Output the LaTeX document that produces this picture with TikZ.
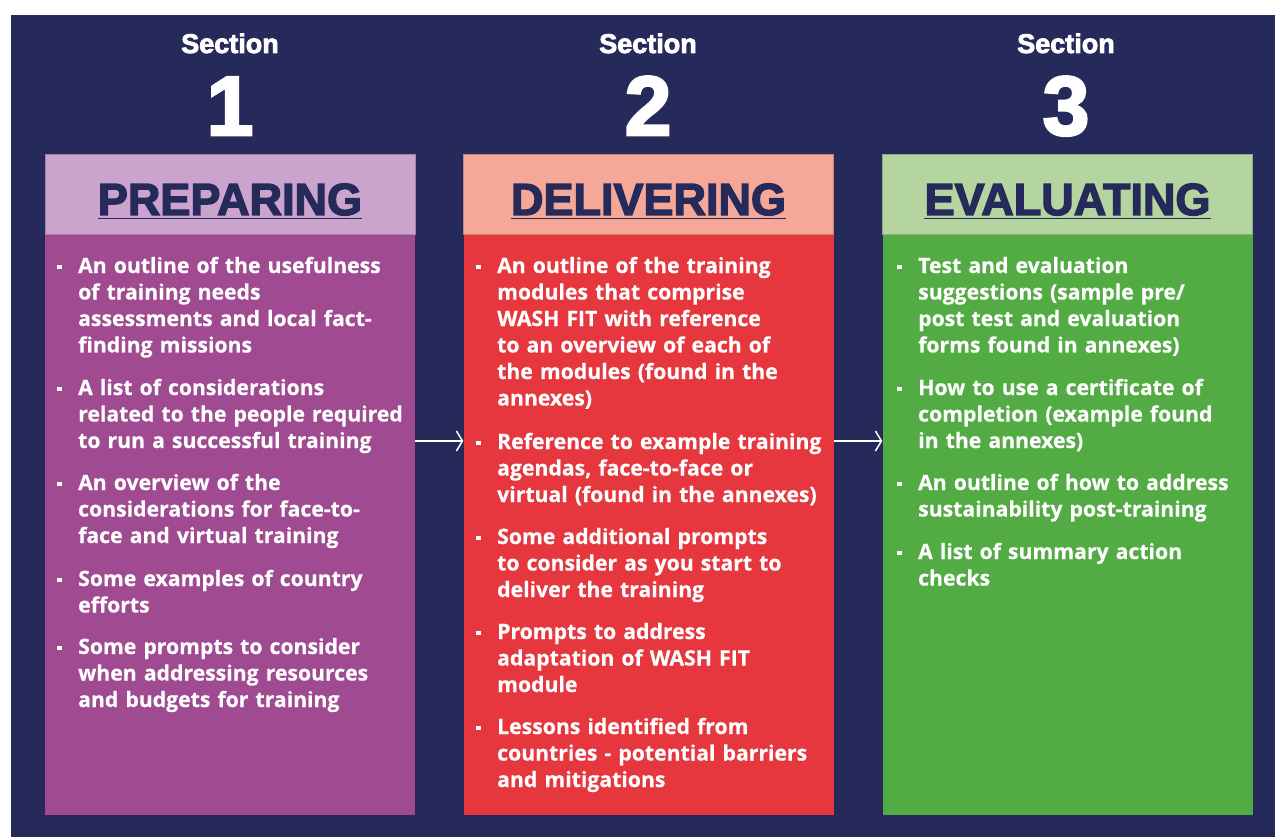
\documentclass[tikz,border=0pt]{standalone}
\usepackage{fontspec}
\setmainfont{Open Sans}[BoldFeatures={FakeBold=0.5}]
\newfontfamily\headfont{Liberation Sans}[BoldFeatures={FakeBold=3}]
\usetikzlibrary{arrows.meta}
\definecolor{navy}{HTML}{252A5B}
\definecolor{hdrA}{HTML}{CBA4CD}
\definecolor{bodyA}{HTML}{A04A91}
\definecolor{hdrB}{HTML}{F5A897}
\definecolor{bodyB}{HTML}{E6373F}
\definecolor{hdrC}{HTML}{B5D5A0}
\definecolor{bodyC}{HTML}{52AB43}
\newcommand{\itembullet}{\llap{\rule[4pt]{4.5pt}{4.5pt}\hspace{16.5pt}}}
\tikzset{
  sect/.style={anchor=base, inner sep=0, text=white, font=\headfont\bfseries\fontsize{27}{30}\selectfont},
  digit/.style={anchor=base, inner sep=0, text=white, font=\headfont\bfseries\fontsize{84}{90}\selectfont},
  hdrbox/.style={minimum width=370pt, minimum height=80pt, inner sep=0, draw=#1!80!black, line width=0.6pt, fill=#1},
  bodybox/.style={minimum width=370pt, minimum height=581pt, inner sep=0, fill=#1},
  title/.style={anchor=base, inner sep=0, text=navy, font=\headfont\bfseries\fontsize{45}{48}\selectfont},
  uline/.style={navy, line width=1.6pt},
  itemtext/.style={anchor=base west, inner sep=0, text=white, text width=360pt, align=left,
    font=\bfseries\fontsize{21.2}{26.5}\selectfont},
  arr/.style={white, line width=1.5pt, -{Straight Barb[length=6pt,width=20pt,line width=1.5pt]}}
}
\begin{document}
\begin{tikzpicture}[x=1pt,y=-1pt]
\useasboundingbox (0,0) rectangle (1275,837);
\fill[white] (0,0) rectangle (1275,837);
\fill[navy] (11,15) rectangle (1275,837);

% section labels
\node[sect] (s1) at (230,53) {Section};
\node[sect] (s2) at (648,53) {Section};
\node[sect] (s3) at (1066,53) {Section};
\node[digit] (d1) at (230,135) {1};
\node[digit] (d2) at (648,135) {2};
\node[digit] (d3) at (1066,135) {3};

% boxes
\node[bodybox=bodyA] (b1) at (230,524.5) {};
\node[bodybox=bodyB] (b2) at (648.5,524.5) {};
\node[bodybox=bodyC] (b3) at (1067.5,524.5) {};
\node[hdrbox=hdrA] (h1) at (230,194) {};
\node[hdrbox=hdrB] (h2) at (648.5,194) {};
\node[hdrbox=hdrC] (h3) at (1067.5,194) {};

% titles
\node[title] (t1) at (230,215) {PREPARING};
\node[title] (t2) at (648.5,215) {DELIVERING};
\node[title] (t3) at (1067.5,215) {EVALUATING};
\draw[uline] ([yshift=-3.5pt]t1.base west) -- ([yshift=-3.5pt]t1.base east);
\draw[uline] ([yshift=-3.5pt]t2.base west) -- ([yshift=-3.5pt]t2.base east);
\draw[uline] ([yshift=-3.5pt]t3.base west) -- ([yshift=-3.5pt]t3.base east);

% column 1
\node[itemtext] (i11) at (78,273) {\itembullet An outline of the usefulness\\of training needs\\assessments and local fact-\\finding missions};
\node[itemtext] (i12) at (78,395) {\itembullet A list of considerations\\related to the people required\\to run a successful training};
\node[itemtext] (i13) at (78,490) {\itembullet An overview of the\\considerations for face-to-\\face and virtual training};
\node[itemtext] (i14) at (78,586) {\itembullet Some examples of country\\efforts};
\node[itemtext] (i15) at (78,654) {\itembullet Some prompts to consider\\when addressing resources\\and budgets for training};

% column 2
\node[itemtext] (i21) at (497,273) {\itembullet An outline of the training\\modules that comprise\\WASH FIT with reference\\to an overview of each of\\the modules (found in the\\annexes)};
\node[itemtext] (i22) at (497,449) {\itembullet Reference to example training\\agendas, face-to-face or\\virtual (found in the annexes)};
\node[itemtext] (i23) at (497,544) {\itembullet Some additional prompts\\to consider as you start to\\deliver the training};
\node[itemtext] (i24) at (497,639) {\itembullet Prompts to address\\adaptation of WASH FIT\\module};
\node[itemtext] (i25) at (497,734) {\itembullet Lessons identified from\\countries - potential barriers\\and mitigations};

% column 3
\node[itemtext] (i31) at (918,273) {\itembullet Test and evaluation\\suggestions (sample pre/\\post test and evaluation\\forms found in annexes)};
\node[itemtext] (i32) at (918,395) {\itembullet How to use a certificate of\\completion (example found\\in the annexes)};
\node[itemtext] (i33) at (918,490) {\itembullet An outline of how to address\\sustainability post-training};
\node[itemtext] (i34) at (918,559) {\itembullet A list of summary action\\checks};

% arrows
\draw[arr] ([yshift=83.5pt]b1.east) -- ([yshift=83.5pt]b2.west);
\draw[arr] ([yshift=83.5pt]b2.east) -- ([yshift=83.5pt]b3.west);
\end{tikzpicture}
\end{document}
